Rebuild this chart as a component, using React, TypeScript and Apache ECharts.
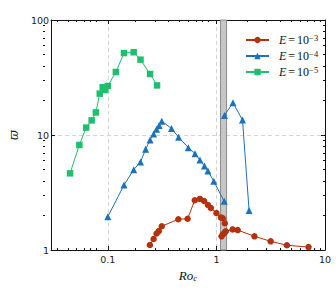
import React, { useEffect, useRef } from 'react';
import * as echarts from 'echarts';

// ---- data (Ro_c, varpi) ----
const redRo1 = [0.244, 0.264, 0.281, 0.295, 0.314, 0.446, 0.543, 0.632, 0.705, 0.771, 0.836, 0.889, 1.0, 1.1, 1.145, 1.195];
const redW1 = [1.105, 1.247, 1.39, 1.46, 1.61, 1.85, 1.87, 2.71, 2.78, 2.67, 2.46, 2.32, 2.1, 1.92, 1.89, 1.71];
const redRo2 = [1.115, 1.148, 1.196, 1.22, 1.41, 1.57, 2.24, 3.16, 4.46, 7.05];
const redW2 = [1.315, 1.37, 1.425, 1.455, 1.51, 1.49, 1.315, 1.19, 1.1, 1.06];

const blueRo1 = [0.1, 0.141, 0.173, 0.2, 0.223, 0.245, 0.264, 0.281, 0.297, 0.314, 0.386, 0.449, 0.551, 0.636, 0.705, 0.776, 0.836, 0.946, 1.18];
const blueW1 = [1.95, 3.67, 4.99, 5.82, 7.51, 9.05, 10.2, 11.2, 12.1, 13.2, 11.4, 9.55, 7.76, 6.88, 6.06, 5.38, 4.86, 3.96, 2.65];
const blueRo2 = [1.186, 1.42, 1.74, 2.0];
const blueW2 = [14.8, 19.1, 13.5, 2.2];

const greenRo = [0.0449, 0.0547, 0.0632, 0.071, 0.0776, 0.0843, 0.0897, 0.0946, 0.1, 0.1186, 0.141, 0.173, 0.2, 0.245, 0.284];
const greenW = [4.64, 8.19, 11.6, 13.4, 15.7, 22.9, 26.0, 24.6, 26.7, 35.3, 51.6, 52.4, 45.2, 33.9, 27.0];

const bandRo = [1.09, 1.24];

const seriesNames = ['E = 10⁻³', 'E = 10⁻⁴', 'E = 10⁻⁵'];
const seriesExps = ['−3', '−4', '−5'];

const xMajor = [0.1, 1, 10];
const xMinor = [0.04, 0.05, 0.06, 0.07, 0.08, 0.09, 0.2, 0.3, 0.4, 0.5, 0.6, 0.7, 0.8, 0.9, 2, 3, 4, 5, 6, 7, 8, 9];
const yMajor = [1, 10, 100];
const yMinor = [2, 3, 4, 5, 6, 7, 8, 9, 20, 30, 40, 50, 60, 70, 80, 90];

const X_MIN = 0.03;
const X_MAX = 10;
const Y_MIN = 1;
const Y_MAX = 100;

const RED = '#b5300c';
const BLUE = '#1a72bd';
const GREEN = '#1ec06e';

const pairs = (xs: number[], ys: number[]) => xs.map((x, i) => [x, ys[i]]);

export default function App() {
  const ref = useRef<HTMLDivElement>(null);
  useEffect(() => {
    if (!ref.current) return;
    const chart = echarts.init(ref.current, undefined, { renderer: 'svg' });
    const axisCol = '#111';
    const gridBox = { left: 43, top: 20, width: 282, height: 230 };

    const baseX = (extra: any) => ({
      type: 'log',
      logBase: 10,
      min: X_MIN,
      max: X_MAX,
      splitLine: { show: false },
      axisLabel: { show: false },
      axisLine: { show: false },
      ...extra,
    });
    const baseY = (extra: any) => ({
      type: 'log',
      logBase: 10,
      min: Y_MIN,
      max: Y_MAX,
      splitLine: { show: false },
      axisLabel: { show: false },
      axisLine: { show: false },
      ...extra,
    });

    const lineSeries = (name: string, data: number[][], color: string, symbol: string, size: number, extra: any = {}) => ({
      name,
      type: 'line',
      data,
      symbol,
      symbolSize: size,
      showSymbol: true,
      lineStyle: { color, width: 1 },
      itemStyle: { color },
      xAxisIndex: 0,
      yAxisIndex: 0,
      ...extra,
    });

    const option: any = {
      animation: false,
      grid: [
        { ...gridBox, containLabel: false },
        { ...gridBox, containLabel: false },
      ],
      legend: {
        orient: 'vertical',
        left: 240,
        top: 28,
        itemWidth: 23,
        itemHeight: 8,
        itemGap: 3,
        data: seriesNames,
        formatter: (name: string) => {
          const exp = seriesExps[seriesNames.indexOf(name)];
          return `{e|E}{q|=}{n|10}{s|${exp}}`;
        },
        textStyle: {
          color: '#111',
          rich: {
            e: { fontFamily: 'Liberation Serif', fontStyle: 'italic', fontSize: 12, lineHeight: 14, padding: [0, 0, 0, 5], color: '#111' },
            q: { fontFamily: 'Liberation Serif', fontSize: 12, lineHeight: 14, padding: [0, 2, 0, 2], color: '#111' },
            n: { fontFamily: 'Liberation Serif', fontSize: 12, lineHeight: 14, color: '#111' },
            s: { fontFamily: 'Liberation Serif', fontSize: 8.5, lineHeight: 9, verticalAlign: 'top', color: '#111' },
          },
        },
      },
      xAxis: [
        baseX({
          gridIndex: 0,
          position: 'bottom',
          axisLine: { show: true, lineStyle: { color: axisCol, width: 1 } },
          axisTick: { show: true, inside: true, length: 4, lineStyle: { color: axisCol }, customValues: xMajor },
          axisLabel: { show: true, customValues: xMajor, margin: 4, fontFamily: 'DejaVu Sans', fontSize: 9.5, color: '#222' },
          splitLine: { show: true, lineStyle: { color: '#d4d4d4', type: [4, 3], width: 1 } },
          name: 'Roc',
          nameLocation: 'middle',
          nameGap: 14,
          nameTextStyle: {
            rich: {
              a: { fontFamily: 'Liberation Serif', fontStyle: 'italic', fontSize: 13, lineHeight: 14, color: '#111' },
              b: { fontFamily: 'Liberation Serif', fontStyle: 'italic', fontSize: 9, lineHeight: 8, verticalAlign: 'bottom', color: '#111' },
            },
          },
        }),
        baseX({
          gridIndex: 0,
          position: 'top',
          axisLine: { show: true, lineStyle: { color: axisCol, width: 1 } },
          axisTick: { show: true, inside: true, length: 4, lineStyle: { color: axisCol }, customValues: xMajor },
        }),
        baseX({
          gridIndex: 1,
          position: 'bottom',
          axisTick: { show: true, inside: true, length: 2, lineStyle: { color: axisCol }, customValues: xMinor },
        }),
        baseX({
          gridIndex: 1,
          position: 'top',
          axisTick: { show: true, inside: true, length: 2, lineStyle: { color: axisCol }, customValues: xMinor },
        }),
      ],
      yAxis: [
        baseY({
          gridIndex: 0,
          position: 'left',
          axisLine: { show: true, lineStyle: { color: axisCol, width: 1 } },
          axisTick: { show: true, inside: true, length: 4, lineStyle: { color: axisCol }, customValues: yMajor },
          axisLabel: { show: true, customValues: yMajor, margin: 2, fontFamily: 'DejaVu Sans', fontSize: 9.5, color: '#222' },
          splitLine: { show: true, lineStyle: { color: '#d4d4d4', type: [4, 3], width: 1 } },
          name: 'ϖ',
          nameLocation: 'middle',
          nameRotate: 90,
          nameGap: 28,
          nameTextStyle: { fontFamily: 'DejaVu Serif', fontStyle: 'italic', fontSize: 12, color: '#111' },
        }),
        baseY({
          gridIndex: 0,
          position: 'right',
          axisLine: { show: true, lineStyle: { color: axisCol, width: 1 } },
          axisTick: { show: true, inside: true, length: 4, lineStyle: { color: axisCol }, customValues: yMajor },
        }),
        baseY({
          gridIndex: 1,
          position: 'left',
          axisTick: { show: true, inside: true, length: 2, lineStyle: { color: axisCol }, customValues: yMinor },
        }),
        baseY({
          gridIndex: 1,
          position: 'right',
          axisTick: { show: true, inside: true, length: 2, lineStyle: { color: axisCol }, customValues: yMinor },
        }),
      ],
      series: [
        lineSeries(seriesNames[0], pairs(redRo1, redW1), RED, 'circle', 6.5, {
          markArea: {
            silent: true,
            itemStyle: { color: '#c6c6c6', borderColor: '#8a8a8a', borderWidth: 1 },
            data: [[{ xAxis: bandRo[0] }, { xAxis: bandRo[1] }]],
          },
        }),
        lineSeries(seriesNames[0], pairs(redRo2, redW2), RED, 'circle', 6.5),
        lineSeries(seriesNames[1], pairs(blueRo1, blueW1), BLUE, 'triangle', 7),
        lineSeries(seriesNames[1], pairs(blueRo2, blueW2), BLUE, 'triangle', 7),
        lineSeries(seriesNames[2], pairs(greenRo, greenW), GREEN, 'rect', 6.5),
      ],
    };
    // axis name with subscript
    option.xAxis[0].name = '{a|Ro}{b|c}';
    chart.setOption(option);
    return () => chart.dispose();
  }, []);
  return <div ref={ref} style={{ position: 'absolute', left: 0, top: 0, width: 336, height: 288 }} />;
}
